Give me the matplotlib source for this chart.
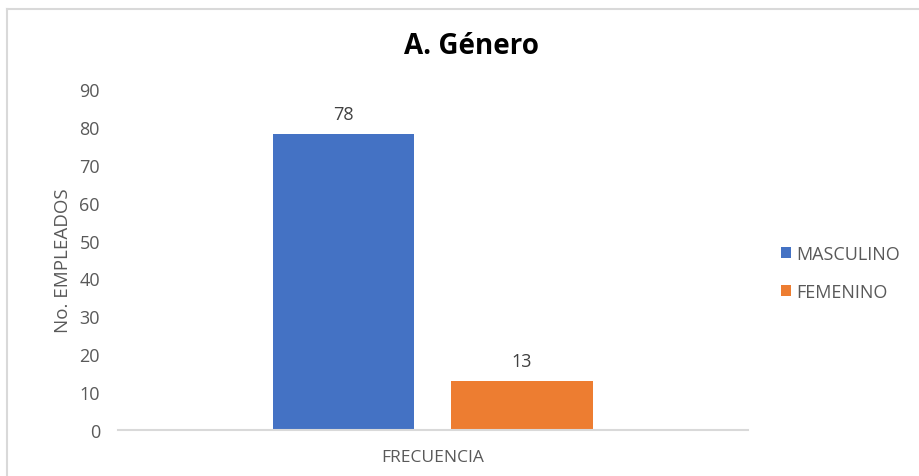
import matplotlib.pyplot as plt
from matplotlib.lines import Line2D
from matplotlib.patches import Patch

plt.rcParams['font.family'] = ['Open Sans', 'DejaVu Sans']

category = ['FRECUENCIA']
series = ['MASCULINO', 'FEMENINO']
values = [78, 13]
colors = ['#4472C4', '#ED7D31']
yticks = [0, 10, 20, 30, 40, 50, 60, 70, 80, 90]

fig = plt.figure(figsize=(9.19, 4.77), dpi=100)
ax = fig.add_axes([118 / 919, 1 - 431 / 477, 630 / 919, 341 / 477])

# chart frame (top and left edges only visible)
fig.add_artist(Line2D([7 / 919, 7 / 919], [0, 1 - 9.5 / 477], transform=fig.transFigure,
                      color='#d9d9d9', lw=1.5))
fig.add_artist(Line2D([7 / 919, 1], [1 - 9.5 / 477, 1 - 9.5 / 477], transform=fig.transFigure,
                      color='#d9d9d9', lw=1.5))

offsets = [-0.142, 0.141]
width = 0.225
for name, val, col, off in zip(series, values, colors, offsets):
    ax.bar(off, val, width=width, color=col, label=name)
    ax.text(off, val + 5.3, str(val), ha='center', va='center', fontsize=13, color='#404040')

ax.set_xlim(-0.5, 0.5)
ax.set_ylim(0, 90)
ax.set_yticks(yticks)
ax.set_xticks([0])
ax.set_xticklabels(category)
ax.tick_params(axis='y', length=0, pad=13, labelsize=13, labelcolor='#595959')
ax.tick_params(axis='x', length=0, pad=14, labelsize=12.5, labelcolor='#595959')

for s in ['top', 'right', 'left']:
    ax.spines[s].set_visible(False)
ax.spines['bottom'].set_color('#d9d9d9')
ax.spines['bottom'].set_linewidth(1.5)

ax.set_ylabel('No. EMPLEADOS', fontsize=13.5, color='#595959', labelpad=5)

fig.text(472 / 919, 1 - 46 / 477, 'A. Género', ha='center', va='center',
         fontsize=20, fontweight='bold', color='#000000')

handles = [Patch(facecolor=c, edgecolor='none') for c in colors]
fig.legend(handles, series, loc='center left', bbox_to_anchor=(765 / 919, 1 - 274 / 477),
           frameon=False, fontsize=13, labelcolor='#595959', handlelength=0.55,
           handleheight=0.55, handletextpad=0.3, labelspacing=1.1)

fig.savefig('out.png', dpi=100)
